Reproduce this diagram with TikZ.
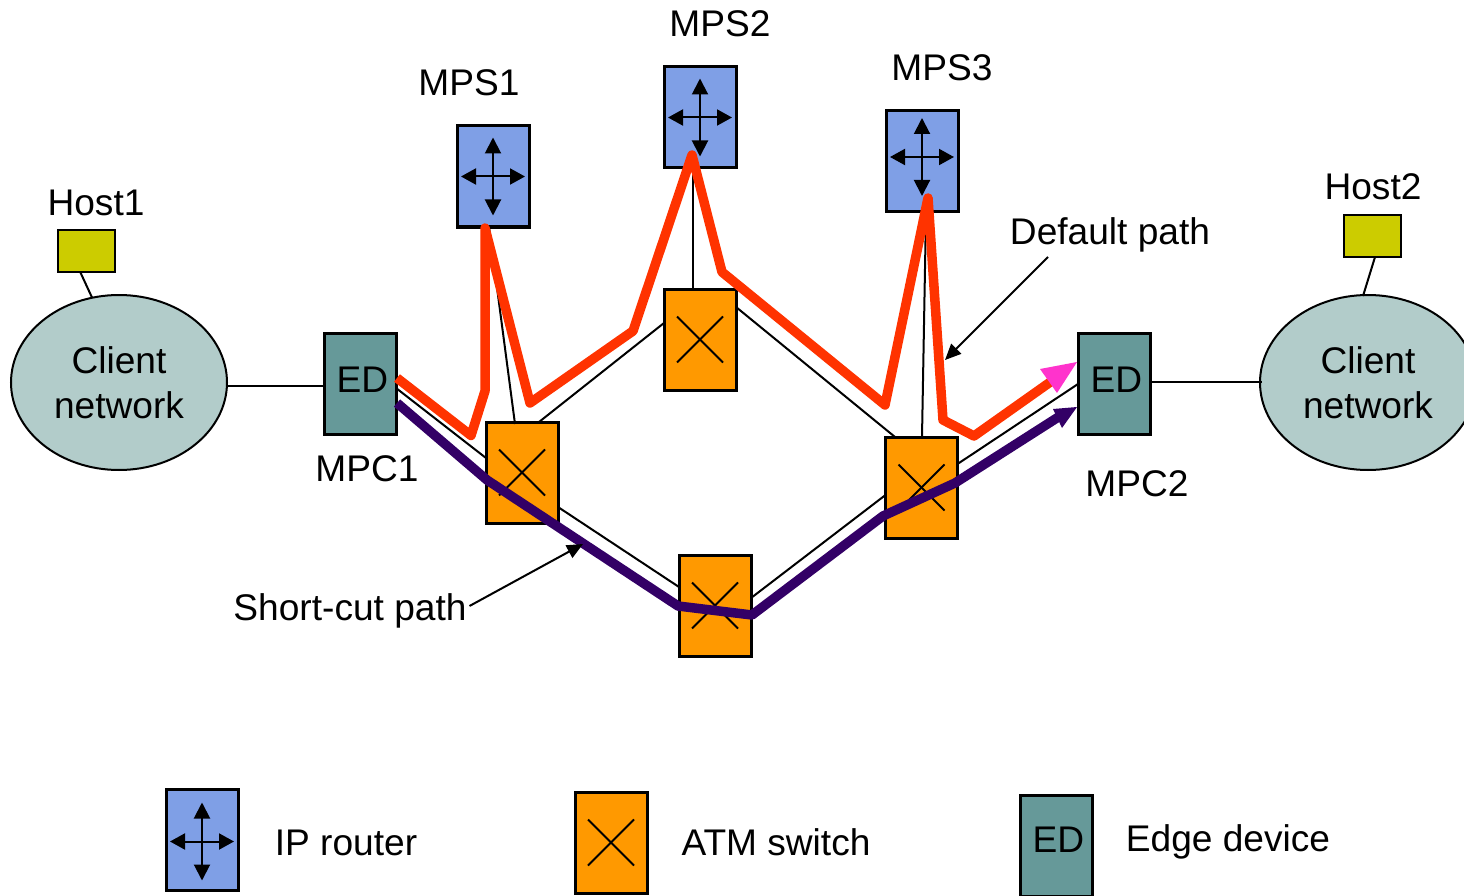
\documentclass[tikz,border=0pt]{standalone}
\usepackage{fontspec}
\setmainfont{Liberation Sans}
\usetikzlibrary{arrows.meta,shapes.geometric}
\definecolor{routerc}{HTML}{7F9FE6}
\definecolor{atmc}{HTML}{FF9900}
\definecolor{edc}{HTML}{669999}
\definecolor{clientc}{HTML}{B2CCCA}
\definecolor{hostc}{HTML}{CCCC00}
\definecolor{redp}{HTML}{FF3300}
\definecolor{purp}{HTML}{330066}
\definecolor{magt}{HTML}{FF33CC}
\tikzset{
  txt/.style={font=\fontsize{37.1}{45}\selectfont,text=black,inner sep=0pt,outer sep=0pt,align=center},
  lbl/.style={txt,anchor=base},
  boxb/.style={draw=black,line width=3pt,minimum width=72pt,minimum height=101pt,inner sep=0pt,outer sep=0pt,rectangle},
  routerbox/.style={boxb,fill=routerc,path picture={
    \draw[line width=2pt,{Triangle[length=15pt,width=16pt]}-{Triangle[length=15pt,width=16pt]}]
      ([shift={(-32pt,#1)}]path picture bounding box.center) -- ([shift={(32pt,#1)}]path picture bounding box.center);
    \draw[line width=2pt,{Triangle[length=16pt,width=16pt]}-{Triangle[length=16pt,width=16pt]}]
      ([shift={(0pt,-39pt+#1)}]path picture bounding box.center) -- ([shift={(0pt,39pt+#1)}]path picture bounding box.center);
  }},
  routerbox/.default=0pt,
  atmbox/.style={boxb,fill=atmc,path picture={
    \draw[line width=2pt] ([shift={(-23pt,-23pt)}]path picture bounding box.center) -- ([shift={(23pt,23pt)}]path picture bounding box.center);
    \draw[line width=2pt] ([shift={(-23pt,23pt)}]path picture bounding box.center) -- ([shift={(23pt,-23pt)}]path picture bounding box.center);
  }},
  edbox/.style={boxb,fill=edc,txt,line width=3pt},
  client/.style={ellipse,draw=black,line width=2pt,fill=clientc,minimum width=216pt,minimum height=175pt,inner sep=0pt,outer sep=0pt,txt},
  hostbox/.style={rectangle,draw=black,line width=2pt,fill=hostc,minimum width=57pt,minimum height=42pt,inner sep=0pt,outer sep=0pt},
  thin link/.style={line width=2pt,draw=black},
  pointer/.style={line width=2pt,draw=black,-{Triangle[length=16pt,width=14pt]}},
  redpath/.style={line width=9.5pt,draw=redp,line join=round,line cap=round},
  purppath/.style={line width=9.5pt,draw=purp,line join=round},
}
\begin{document}
\begin{tikzpicture}[x=1pt,y=-1pt]
\useasboundingbox (0,0) rectangle (1464,896);
\clip (0,0) rectangle (1464,896);
% nodes
\node[client] (cl1) at (119,382.5) {Client\\network};
\node[client] (cl2) at (1368,382.5) {Client\\network};
\node[hostbox] (h1) at (86.5,250.5) {};
\node[hostbox] (h2) at (1372.5,236) {};
\node[routerbox] (mps1) at (493,176.5) {};
\node[routerbox] (mps2) at (700,117.5) {};
\node[routerbox=4.5pt] (mps3) at (922,161.5) {};
\node[atmbox] (a1) at (522,472.5) {};
\node[atmbox] (a2) at (700,339.5) {};
\node[atmbox] (a3) at (921.5,487.5) {};
\node[atmbox] (a4) at (715,605.5) {};
\node[edbox] (ed1) at (360,383.5) {\raisebox{7pt}{\hspace{5pt}ED}};
\node[edbox] (ed2) at (1114,383.5) {\raisebox{7pt}{\hspace{5pt}ED}};
% legend
\node[routerbox=-2pt] (lr) at (202,839.5) {};
\node[atmbox] (la) at (611,842.5) {};
\node[edbox] (le) at (1056,845.5) {\raisebox{11.5pt}{\hspace{5pt}ED}};
% labels
\node[lbl] (tm1) at (469,96) {MPS1};
\node[lbl] (tm2) at (720,37) {MPS2};
\node[lbl] (tm3) at (942,81) {MPS3};
\node[lbl] (th1) at (96,215) {Host1};
\node[lbl] (th2) at (1373,200) {Host2};
\node[lbl] (tc1) at (367,481) {MPC1};
\node[lbl] (tc2) at (1137,496) {MPC2};
\node[lbl] (tdp) at (1110,244) {Default path};
\node[lbl] (tsc) at (350,620) {Short-cut path};
\node[lbl] (tl1) at (346,855) {IP router};
\node[lbl] (tl2) at (776,855) {ATM switch};
\node[lbl] (tl3) at (1228,851) {Edge device};
% thin links
\draw[thin link] ([shift={(0,3.5)}]cl1.east) -- ([shift={(0,2.5)}]ed1.west);
\draw[thin link] ([shift={(0,-1.5)}]ed2.east) -- ([shift={(2,-0.5)}]cl2.west);
\draw[thin link] ([shift={(-6.5,21)}]h1.center) -- ([shift={(5.5,47)}]h1.center);
\draw[thin link] ([shift={(2.5,21)}]h2.center) -- ([shift={(-9.5,60)}]h2.center);
\draw[thin link] ([shift={(0,4.5)}]ed1.east) -- ([shift={(0,-14.5)}]a1.west);
\draw[thin link] ([shift={(0,34.5)}]a1.east) -- ([shift={(0,-18.5)}]a4.west);
\draw[thin link] ([shift={(0,-7.5)}]a4.east) -- ([shift={(0,7.5)}]a3.west);
\draw[thin link] ([shift={(0,-23.5)}]a3.east) -- ([shift={(0,0.5)}]ed2.west);
\draw[thin link] ([shift={(17,0)}]a1.north) -- ([shift={(0,-16.5)}]a2.west);
\draw[thin link] ([shift={(0,-32.5)}]a2.east) -- ([shift={(-26.5,0)}]a3.north);
\draw[thin link] ([shift={(-7,0)}]a2.north) -- ([shift={(-7,0)}]mps2.south);
\draw[thin link] ([shift={(0.5,0)}]a3.north) -- ([shift={(4,0)}]mps3.south);
\draw[thin link] ([shift={(-7,2)}]a1.north) -- ([shift={(-4,0)}]mps1.south);
% paths
\draw[redpath,line cap=butt] ([shift={(1,-5.5)}]ed1.east) -- (471,435.5) -- (485,391) -- (485,228) -- (530,403) -- (633,331) -- (692,155) -- (722,272) -- (885,405) -- (928,198) -- (943,420) -- (974,436) -- (1056,378);
\draw[draw=none,fill=magt] ([shift={(-1,-21.5)}]ed2.west) -- (1040,369) -- (1057,393) -- cycle;
\draw[purppath] ([shift={(1,19.5)}]ed1.east) -- (487,480) -- (678,606) -- (752,615) -- (883,516) -- (955,483) -- (1060,416);
\draw[draw=none,fill=purp] ([shift={(-1,23.5)}]ed2.west) -- (1053,409) -- (1062,428) -- cycle;
% pointers
\coordinate (sctip) at (583,544);
\coordinate (dptip) at (945,360);
\coordinate (dpstart) at (1048,257);
\draw[pointer] ([shift={(3,-14)}]tsc.base east) -- (sctip);
\draw[pointer] (dpstart) -- (dptip);
\end{tikzpicture}
\end{document}
